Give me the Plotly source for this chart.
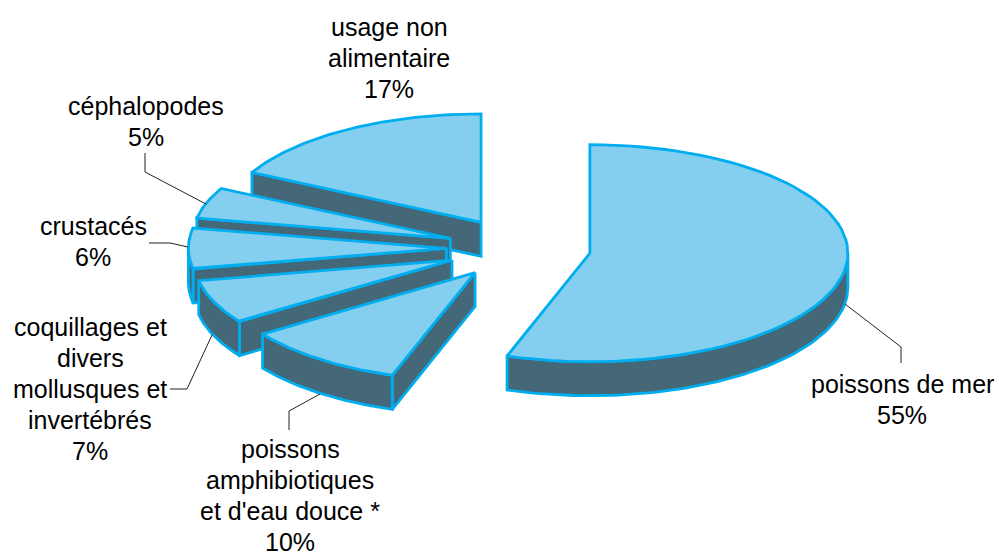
import math
import plotly.graph_objects as go

categories = ["poissons de mer", "poissons amphibiotiques et d'eau douce *",
              "coquillages et divers mollusques et invertébrés",
              "crustacés", "céphalopodes", "usage non alimentaire"]
values = [55.2, 10.2, 6.55, 6.05, 4.6, 17.4]
label_lines = [["poissons de mer"],
               ["poissons", "amphibiotiques", "et d'eau douce *"],
               ["coquillages et", "divers", "mollusques et", "invertébrés"],
               ["crustacés"], ["céphalopodes"],
               ["usage non", "alimentaire"]]
label_x = [902, 290, 90, 93, 146, 389]
label_top = [384, 449, 327, 226, 106, 27]
leaders = [[(845, 304), (901, 347), (901, 363)],
           [(320, 394), (289, 411), (289, 430)],
           [(212, 335), (187, 389), (170, 389)],
           [(188, 247), (170, 243), (149, 243)],
           [(206, 204), (145, 172), (145, 153)],
           []]
draw_order = [5, 4, 3, 2, 1, 0]

CX, CY, RX, RY, DEPTH, PULL = 518.6, 248.3, 258, 108.5, 34, 0.28
LINE_H = 31.1
TOP, SIDE, EDGE = "#84CFF0", "#446877", "#00AEEF"


def pt(cx, cy, a):
    return cx + RX * math.sin(a), cy - RY * math.cos(a)


def poly(fig, pts, fill):
    xs = [p[0] for p in pts] + [pts[0][0]]
    ys = [p[1] for p in pts] + [pts[0][1]]
    fig.add_trace(go.Scatter(x=xs, y=ys, mode="lines", fill="toself", fillcolor=fill,
                             line=dict(color=EDGE, width=2.8), hoverinfo="skip",
                             showlegend=False))


fig = go.Figure()
total = sum(values)
starts, acc = [], 0
for v in values:
    starts.append(acc / total * 2 * math.pi)
    acc += v

for i in draw_order:
    a0 = starts[i]
    a1 = a0 + values[i] / total * 2 * math.pi
    mid = (a0 + a1) / 2
    cx = CX + PULL * RX * math.sin(mid)
    cy = CY - PULL * RY * math.cos(mid)
    n = 72
    arc = [pt(cx, cy, a0 + (a1 - a0) * k / n) for k in range(n + 1)]

    # radial faces visible when the extrusion points away from the slice interior
    for a, other in ((a0, mid), (a1, mid)):
        e = pt(cx, cy, a)
        d = (e[0] - cx, e[1] - cy)
        m = pt(cx, cy, other)
        cross_m = d[0] * (m[1] - cy) - d[1] * (m[0] - cx)
        cross_down = d[0]
        if cross_m * cross_down < 0:
            poly(fig, [(cx, cy), e, (e[0], e[1] + DEPTH), (cx, cy + DEPTH)], SIDE)

    # outer wall: the portion of the rim in the lower half of the ellipse
    lo, hi = max(a0, math.pi / 2), min(a1, 3 * math.pi / 2)
    if hi > lo:
        rim = [pt(cx, cy, lo + (hi - lo) * k / n) for k in range(n + 1)]
        poly(fig, rim + [(x, y + DEPTH) for x, y in reversed(rim)], SIDE)

    poly(fig, [(cx, cy)] + arc, TOP)

for seg in leaders:
    if seg:
        fig.add_trace(go.Scatter(x=[p[0] for p in seg], y=[p[1] for p in seg], mode="lines",
                                 line=dict(color="#222222", width=1), hoverinfo="skip",
                                 showlegend=False))

for lines, v, x, y0 in zip(label_lines, values, label_x, label_top):
    for k, t in enumerate(lines + [f"{round(v)}%"]):
        fig.add_annotation(x=x, y=y0 + k * LINE_H, text=t, showarrow=False, xanchor="center",
                           yanchor="middle", font=dict(family="Liberation Sans", size=25,
                                                       color="#000000"))

fig.update_layout(width=999, height=555, margin=dict(l=0, r=0, t=0, b=0),
                  paper_bgcolor="white", plot_bgcolor="white", showlegend=False,
                  xaxis=dict(range=[0, 999], visible=False, fixedrange=True),
                  yaxis=dict(range=[555, 0], visible=False, fixedrange=True))
fig.write_html("out.html", config={"displayModeBar": False},
               post_script="document.body.style.margin='0';document.body.style.overflow='hidden';")
